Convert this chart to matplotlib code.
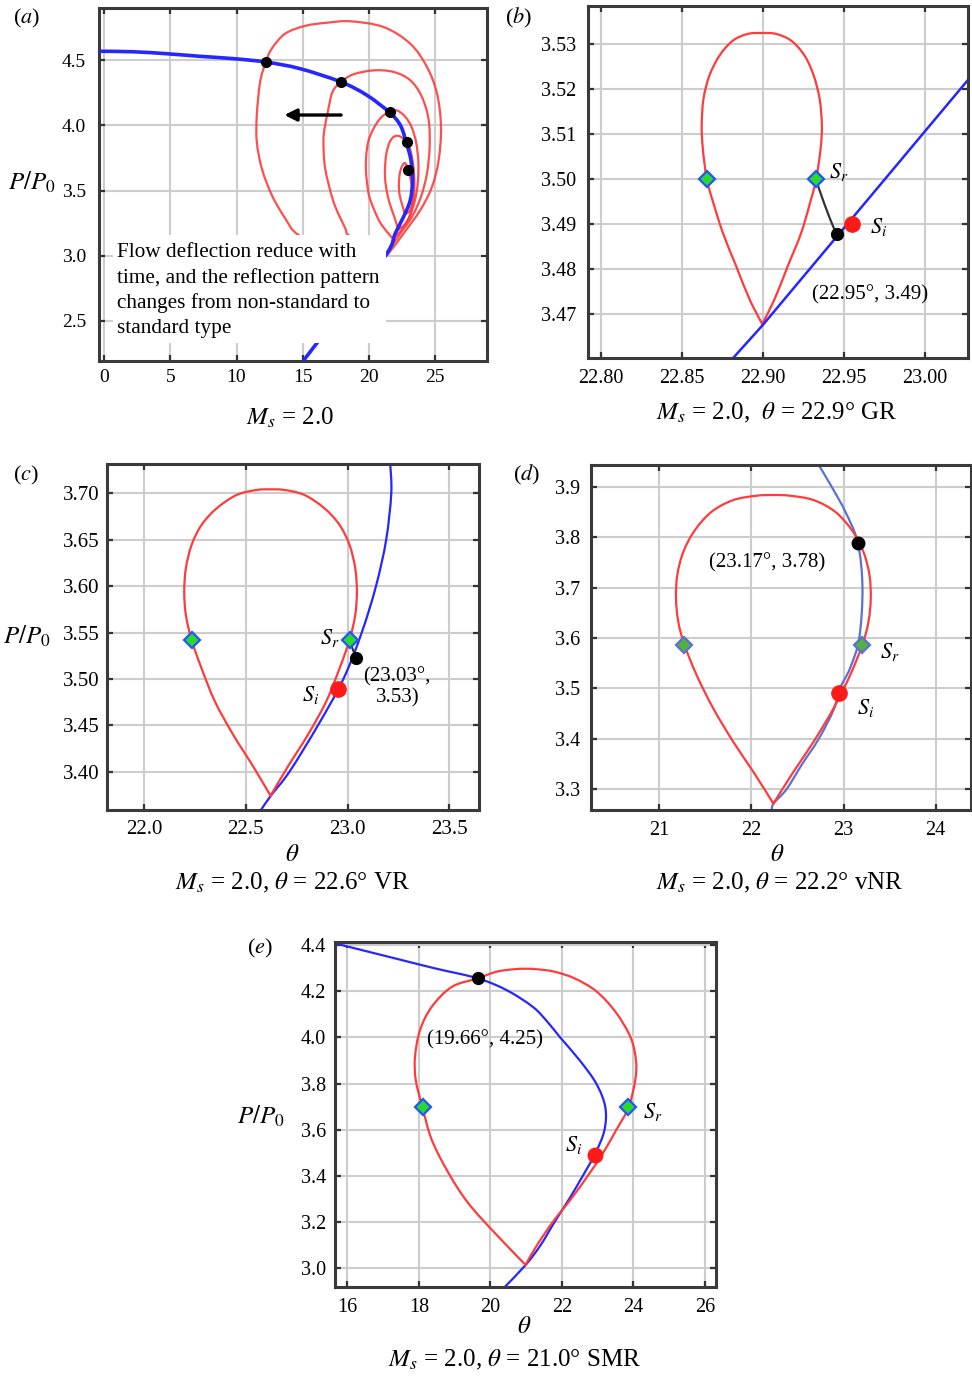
import matplotlib
matplotlib.use("Agg")
import matplotlib.pyplot as plt
from matplotlib.patches import Rectangle, PathPatch
from matplotlib.path import Path

plt.rcParams['font.family'] = ['Liberation Serif', 'DejaVu Serif']
plt.rcParams['mathtext.fontset'] = 'stix'

W, H = 972, 1377

RED = '#ff3b3b'
BLUE = '#2626ff'
GREEN = '#2bd82b'
DBLUE = '#5a72d2'   # muted blue of panel (d)
DGREEN = '#55b040'

# ---------------- panel (a): I-polar and a family of R-polars ----------------
a_inc_theta = [-0.40, 2.2, 4.73, 7.25, 9.77, 12.21, 14.80, 17.88, 19.84, 21.55, 22.36,
               22.81, 23.16, 23.29, 23.11, 22.61, 21.98, 21.35, 18.6, 16.06, 15.06]
a_inc_p = [4.570, 4.566, 4.551, 4.531, 4.513, 4.487, 4.436, 4.334, 4.232, 4.099, 4.002,
           3.869, 3.733, 3.580, 3.426, 3.299, 3.171, 3.017, 2.66, 2.327, 2.194]

a_loops = [
    ([21.0, 21.48, 22.61, 23.87, 24.75, 25.25, 25.43, 25.13, 24.37, 23.11, 21.10, 18.6,
      16.9, 15.18, 13.67, 12.66, 12.21, 11.78, 11.53, 11.53, 11.91, 12.66, 13.67, 14.68,
      17.5, 21.0],
     [2.97, 3.017, 3.171, 3.350, 3.529, 3.733, 3.989, 4.244, 4.449, 4.628, 4.756, 4.800,
      4.790, 4.765, 4.705, 4.590, 4.487, 4.334, 4.078, 3.873, 3.669, 3.465, 3.286, 3.158,
      3.03, 2.97]),
    ([21.2, 21.60, 22.36, 23.24, 23.92, 24.37, 24.57, 24.50, 23.99, 23.11, 21.85, 20.34,
      18.83, 17.88, 17.25, 16.94, 16.65, 16.56, 16.69, 17.32, 18.2, 18.45, 20.0, 21.2],
     [3.0, 3.056, 3.171, 3.299, 3.452, 3.631, 3.835, 4.040, 4.219, 4.347, 4.411, 4.423,
      4.393, 4.334, 4.26, 4.13, 3.98, 3.873, 3.669, 3.413, 3.21, 3.158, 3.06, 3.0]),
    ([21.8, 21.35, 20.8, 20.34, 20.0, 19.84, 19.76, 19.79, 19.95, 20.34, 20.9, 21.55, 22.1,
      22.7, 23.2, 23.55, 23.72, 23.68, 23.45, 23.0, 22.4, 21.8],
     [3.13, 3.183, 3.26, 3.363, 3.46, 3.567, 3.67, 3.771, 3.88, 3.976, 4.06, 4.105, 4.115,
      4.07, 3.99, 3.87, 3.72, 3.56, 3.42, 3.29, 3.19, 3.13]),
    ([22.2, 21.9, 21.5, 21.25, 21.2, 21.3, 21.55, 21.9, 22.35, 22.85, 23.15, 23.35, 23.42,
      23.35, 23.1, 22.7, 22.2],
     [3.20, 3.3, 3.42, 3.55, 3.66, 3.78, 3.87, 3.915, 3.915, 3.87, 3.80, 3.68, 3.55, 3.42,
      3.31, 3.24, 3.20]),
    ([22.7, 22.5, 22.3, 22.25, 22.32, 22.5, 22.73, 22.95, 23.15, 23.27, 23.25, 23.05, 22.7],
     [3.32, 3.39, 3.47, 3.55, 3.63, 3.69, 3.71, 3.66, 3.58, 3.48, 3.40, 3.34, 3.32]),
]
a_dot_theta = [12.21, 17.88, 21.55, 22.85, 22.95]
a_dot_p = [4.487, 4.334, 4.105, 3.87, 3.66]

# ---------------- panel (b): theta = 22.9 GR ----------------
b_inc_theta = [22.881, 22.90, 23.0265]
b_inc_p = [3.460, 3.4676, 3.522]
b_ref_theta = [22.8996, 22.8918, 22.8835, 22.8753, 22.8687, 22.8654, 22.8630, 22.8623,
               22.8634, 22.8671, 22.8733, 22.8815, 22.8907, 22.8996, 22.9082, 22.9175,
               22.9257, 22.9313, 22.9350, 22.9364, 22.9356, 22.9329, 22.9298, 22.9237,
               22.9154, 22.9072, 22.8996]
b_ref_p = [3.4678, 3.4733, 3.4807, 3.4881, 3.4956, 3.5000, 3.5067, 3.5119, 3.5178, 3.5230,
           3.5274, 3.5307, 3.5322, 3.5324, 3.5322, 3.5307, 3.5274, 3.5230, 3.5178, 3.5119,
           3.5067, 3.5000, 3.4956, 3.4881, 3.4807, 3.4733, 3.4678]
b_sr = ([22.8654, 22.9329], [3.500, 3.500])
b_link = ([22.933, 22.938, 22.944, 22.946], [3.4996, 3.4944, 3.4889, 3.4878])
b_sol = (22.946, 3.4878)
b_si = (22.955, 3.4899)

# ---------------- panel (c): theta = 22.6 VR ----------------
c_inc_theta = [22.575, 22.623, 22.715, 22.855, 22.98, 23.07, 23.14, 23.19, 23.215, 23.21]
c_inc_p = [3.3587, 3.374, 3.40, 3.45, 3.50, 3.55, 3.60, 3.65, 3.70, 3.7313]
c_ref_theta = [22.622, 22.537, 22.439, 22.349, 22.283, 22.234, 22.206, 22.198, 22.206,
               22.234, 22.283, 22.357, 22.455, 22.553, 22.622, 22.691, 22.789, 22.887,
               22.961, 23.010, 23.038, 23.046, 23.038, 23.010, 22.961, 22.895, 22.805,
               22.707, 22.622]
c_ref_p = [3.374, 3.4055, 3.4396, 3.4755, 3.5114, 3.5420, 3.5689, 3.5940, 3.6192, 3.6443,
           3.6659, 3.6838, 3.6982, 3.7036, 3.7043, 3.7036, 3.6982, 3.6838, 3.6659, 3.6443,
           3.6192, 3.5940, 3.5689, 3.5420, 3.5114, 3.4755, 3.4396, 3.4055, 3.374]
c_sr = ([22.234, 23.010], [3.542, 3.542])
c_link = ([23.010, 23.04], [3.542, 3.523])
c_sol = (23.04, 3.523)
c_si = (22.955, 3.489)

# ---------------- panel (d): theta = 22.2 vNR ----------------
d_inc_theta = [22.73, 22.87, 23.02, 23.154, 23.205, 23.17, 23.07, 22.96, 22.89, 22.73,
               22.55, 22.38, 22.24, 22.22]
d_inc_p = [3.943, 3.90, 3.85, 3.789, 3.70, 3.60, 3.54, 3.50, 3.457, 3.40, 3.35, 3.30,
           3.272, 3.259]
d_ref_theta = [22.238, 22.021, 21.803, 21.586, 21.405, 21.271, 21.206, 21.181, 21.195,
               21.261, 21.387, 21.568, 21.803, 22.057, 22.238, 22.419, 22.673, 22.908,
               23.089, 23.215, 23.281, 23.295, 23.270, 23.205, 23.071, 22.890, 22.673,
               22.455, 22.238]
d_ref_p = [3.2717, 3.3345, 3.3940, 3.4602, 3.5263, 3.5872, 3.6321, 3.6784, 3.7247, 3.7710,
           3.8140, 3.8504, 3.8735, 3.8821, 3.8835, 3.8821, 3.8735, 3.8504, 3.8140, 3.7710,
           3.7247, 3.6784, 3.6321, 3.5872, 3.5263, 3.4602, 3.3940, 3.3345, 3.2717]
d_sr = ([21.271, 23.205], [3.587, 3.587])
d_sol = (23.154, 3.789)
d_si = (22.95, 3.49)

# ---------------- panel (e): theta = 21.0 SMR ----------------
e_inc_theta = [15.66, 17.52, 18.45, 19.64, 20.45, 21.18, 21.58, 21.95, 22.5, 22.96, 23.21,
               23.19, 22.94, 22.58, 22.2, 21.79, 21.4, 20.98, 20.39]
e_inc_p = [4.407, 4.335, 4.299, 4.256, 4.205, 4.133, 4.07, 4.00, 3.90, 3.80, 3.70, 3.60,
           3.50, 3.40, 3.30, 3.20, 3.10, 3.014, 2.918]
e_ref_theta = [20.98, 20.13, 19.38, 18.83, 18.36, 18.10, 17.91, 17.89, 18.03, 18.36,
               18.92, 19.64, 20.18, 20.64, 20.98, 21.32, 21.78, 22.35, 22.96, 23.50, 23.92,
               24.07, 24.05, 23.86, 23.52, 23.15, 22.72, 22.25, 21.74, 21.30, 20.98]
e_ref_p = [3.015, 3.152, 3.282, 3.412, 3.556, 3.696, 3.816, 3.916, 4.032, 4.133, 4.219,
           4.256, 4.285, 4.295, 4.2975, 4.295, 4.285, 4.256, 4.20, 4.11, 4.00, 3.90,
           3.816, 3.696, 3.60, 3.50, 3.40, 3.30, 3.20, 3.10, 3.015]
e_sr = ([18.10, 23.86], [3.70, 3.70])
e_sol = (19.64, 4.256)
e_si = (22.93, 3.49)


def add_panel(fig, left, top, right, bottom):
    # rectangle given in pixels of the 972x1377 canvas
    return fig.add_axes([left / W, 1 - bottom / H, (right - left) / W, (bottom - top) / H])


def style(ax, xlim, ylim, xticks, yticks, xfmt, yfmt, fs, padx, pady):
    ax.set_xlim(*xlim)
    ax.set_ylim(*ylim)
    ax.set_xticks(xticks)
    ax.set_yticks(yticks)
    ax.set_xticklabels([xfmt % v for v in xticks])
    ax.set_yticklabels([yfmt % v for v in yticks])
    ax.grid(True, color='#cdcdcd', lw=1.5)
    ax.set_axisbelow(True)
    ax.tick_params(direction='in', top=True, right=True, length=4.5, width=1.6,
                   color='#333333', labelsize=fs)
    ax.tick_params(axis='x', pad=padx)
    ax.tick_params(axis='y', pad=pady)
    for s in ax.spines.values():
        s.set_linewidth(2.2)
        s.set_color('#3a3a3a')


def curve(ax, xs, ys, color, lw=1.6, zorder=2, alpha=1.0):
    # smooth curve through the read points, drawn as cubic Bezier segments
    pts = list(zip(xs, ys))
    n = len(pts)
    verts, codes = [pts[0]], [Path.MOVETO]
    for i in range(n - 1):
        p0 = pts[i - 1] if i > 0 else pts[i]
        p1, p2 = pts[i], pts[i + 1]
        p3 = pts[i + 2] if i + 2 < n else p2
        c1 = (p1[0] + (p2[0] - p0[0]) / 6, p1[1] + (p2[1] - p0[1]) / 6)
        c2 = (p2[0] - (p3[0] - p1[0]) / 6, p2[1] - (p3[1] - p1[1]) / 6)
        verts += [c1, c2, p2]
        codes += [Path.CURVE4] * 3
    ax.add_patch(PathPatch(Path(verts, codes), fill=False, edgecolor=color, lw=lw,
                           zorder=zorder, alpha=alpha, joinstyle='round', capstyle='round'))


def fig_text(x, y, s, **kw):
    fig.text(x / W, 1 - y / H, s, **kw)


fig = plt.figure(figsize=(W / 100, H / 100), dpi=100)

# ---- (a)
ax = add_panel(fig, 98.7, 8.3, 487, 361)
style(ax, (-0.4, 28.9), (2.19, 4.90), [0, 5, 10, 15, 20, 25], [2.5, 3.0, 3.5, 4.0, 4.5],
      '%d', '%.1f', 14, 6, 9)
for th, p in a_loops:
    curve(ax, th, p, RED, lw=1.6, alpha=0.9)
curve(ax, a_inc_theta, a_inc_p, BLUE, lw=2.6, zorder=3)
ax.plot(a_dot_theta, a_dot_p, 'o', color='black', ms=7, zorder=4)
ax.annotate('', xy=(13.4, 4.08), xytext=(18.1, 4.08),
            arrowprops=dict(arrowstyle='-|>', color='black', lw=2.4, mutation_scale=18))
ax.add_patch(Rectangle((0.68, 2.33), 20.62, 0.828, facecolor='white', edgecolor='none',
                       zorder=5))
ax.text(0.98, 3.095, 'Flow deflection reduce with\ntime, and the reflection pattern\n'
        'changes from non-standard to\nstandard type', fontsize=15.3, va='top', ha='left',
        linespacing=1.38, zorder=6)

# ---- (b)
ax = add_panel(fig, 587.7, 6, 968, 358.3)
style(ax, (22.792, 23.0265), (3.4602, 3.5384), [22.80, 22.85, 22.90, 22.95, 23.00],
      [3.47, 3.48, 3.49, 3.50, 3.51, 3.52, 3.53], '%.2f', '%.2f', 14.5, 8, 8)
curve(ax, b_ref_theta, b_ref_p, RED)
ax.plot(b_inc_theta, b_inc_p, color=BLUE, lw=1.8)
curve(ax, *b_link, '#333333', lw=1.6, zorder=3)
ax.plot(*b_sr, 'D', ms=8.5, mfc=GREEN, mec='#2255ff', mew=1.6, zorder=4)
ax.plot(*b_si, 'o', ms=11, color='#ff1a1a', zorder=4)
ax.plot(*b_sol, 'o', ms=8.5, color='black', zorder=4)
ax.text(22.941, 3.5016, '$S_r$', fontsize=16, va='center')
ax.text(22.966, 3.4893, '$S_i$', fontsize=16, va='center')
ax.text(22.966, 3.4742, '(22.95°, 3.49)', fontsize=15, ha='center', va='center')

# ---- (c)
ax = add_panel(fig, 107.3, 464.3, 479, 810)
style(ax, (21.82, 23.646), (3.3587, 3.7313), [22.0, 22.5, 23.0, 23.5],
      [3.40, 3.45, 3.50, 3.55, 3.60, 3.65, 3.70], '%.1f', '%.2f', 15, 7, 5.5)
curve(ax, c_inc_theta, c_inc_p, BLUE)
curve(ax, c_ref_theta, c_ref_p, RED)
ax.plot(*c_link, color='#333333', lw=1.5, zorder=3)
ax.plot(*c_sr, 'D', ms=8.5, mfc=GREEN, mec='#2255ff', mew=1.6, zorder=4)
ax.plot(*c_si, 'o', ms=11, color='#ff1a1a', zorder=4)
ax.plot(*c_sol, 'o', ms=8.5, color='black', zorder=4)
ax.text(22.864, 3.544, '$S_r$', fontsize=16, va='center')
ax.text(22.776, 3.483, '$S_i$', fontsize=16, va='center')
ax.text(23.245, 3.491, '(23.03°,\n3.53)', fontsize=15, ha='center', va='center',
        linespacing=1.1)

# ---- (d)
ax = add_panel(fig, 590.7, 465, 971, 810)
style(ax, (20.255, 24.383), (3.259, 3.943), [21, 22, 23, 24],
      [3.3, 3.4, 3.5, 3.6, 3.7, 3.8, 3.9], '%d', '%.1f', 14.5, 8, 7.5)
curve(ax, d_inc_theta, d_inc_p, DBLUE)
curve(ax, d_ref_theta, d_ref_p, RED)
ax.plot(*d_sr, 'D', ms=8.5, mfc=DGREEN, mec=DBLUE, mew=1.6, zorder=4)
ax.plot(*d_si, 'o', ms=11, color='#ff1a1a', zorder=4)
ax.plot(*d_sol, 'o', ms=9, color='black', zorder=4)
ax.text(23.395, 3.572, '$S_r$', fontsize=16, va='center')
ax.text(23.145, 3.461, '$S_i$', fontsize=16, va='center')
ax.text(22.166, 3.750, '(23.17°, 3.78)', fontsize=15, ha='center', va='center')

# ---- (e)
ax = add_panel(fig, 335.3, 942.3, 715.7, 1287.3)
style(ax, (15.66, 26.30), (2.918, 4.412), [16, 18, 20, 22, 24, 26],
      [3.0, 3.2, 3.4, 3.6, 3.8, 4.0, 4.2, 4.4], '%d', '%.1f', 14.5, 8, 6.5)
curve(ax, e_inc_theta, e_inc_p, BLUE)
curve(ax, e_ref_theta, e_ref_p, RED)
ax.plot(*e_sr, 'D', ms=8.5, mfc=GREEN, mec='#2255ff', mew=1.6, zorder=4)
ax.plot(*e_si, 'o', ms=10.5, color='#ff1a1a', zorder=4)
ax.plot(*e_sol, 'o', ms=8.5, color='black', zorder=4)
ax.text(24.27, 3.677, '$S_r$', fontsize=16, va='center')
ax.text(22.09, 3.534, '$S_i$', fontsize=16, va='center')
ax.text(19.85, 3.989, '(19.66°, 4.25)', fontsize=15, ha='center', va='center')

# ---- panel tags, axis titles and captions
for tag, x, y in [('a', 13, 18), ('b', 505, 18), ('c', 13, 475), ('d', 513, 475),
                  ('e', 247, 948)]:
    fig_text(x, y, '($%s$)' % tag, fontsize=16, va='center', ha='left')

for x, y in [(8, 182), (3, 636), (237, 1116)]:
    fig_text(x, y, '$P/P_0$', fontsize=18, va='center', ha='left')

for x, y in [(292, 855), (777, 855), (524, 1327)]:
    fig_text(x, y, r'$\theta$', fontsize=18, va='center', ha='center')

captions = [
    (290, 418, r'$M_s$ = 2.0'),
    (777, 413, r'$M_s$ = 2.0,  $\theta$ = 22.9° GR'),
    (292, 883, r'$M_s$ = 2.0, $\theta$ = 22.6° VR'),
    (780, 883, r'$M_s$ = 2.0, $\theta$ = 22.2° vNR'),
    (514, 1360, r'$M_s$ = 2.0, $\theta$ = 21.0° SMR'),
]
for x, y, s in captions:
    fig_text(x, y, s, fontsize=18, va='center', ha='center')

fig.savefig('out.png', dpi=100)
